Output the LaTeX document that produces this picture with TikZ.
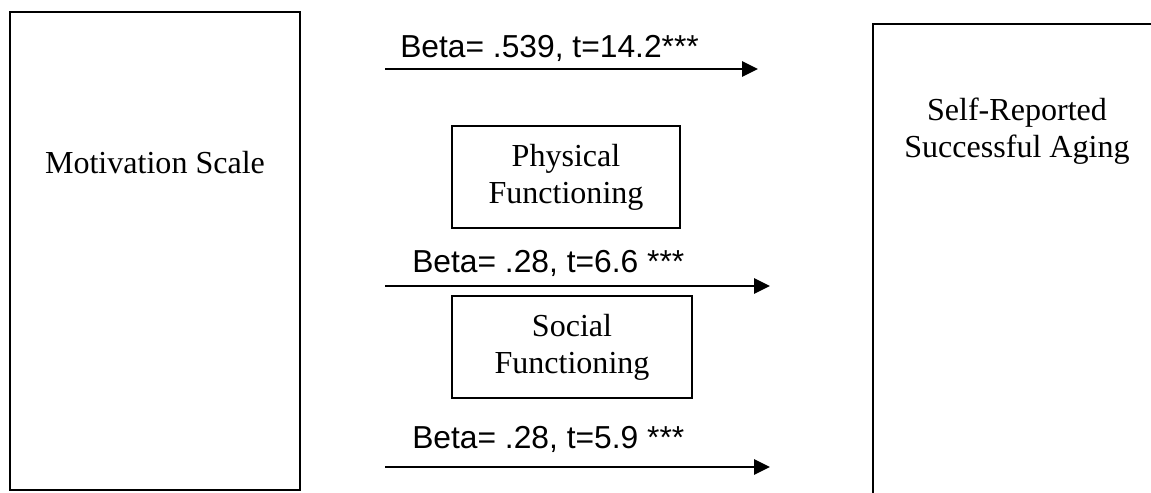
\documentclass[tikz,border=0pt]{standalone}
\usepackage{fontspec}
\setmainfont{Liberation Serif}
\setsansfont{Liberation Sans}
\usetikzlibrary{arrows.meta}
\usetikzlibrary{positioning}

\tikzset{
  varbox/.style={draw, rectangle, line width=1.3pt, align=center,
    font=\fontsize{22.8}{26.3}\selectfont},
  boxtext/.style={align=center, font=\fontsize{22.8}{26.3}\selectfont},
  betatext/.style={anchor=base west, inner sep=0pt,
    font=\sffamily\fontsize{22.6}{26}\selectfont},
  effect/.style={line width=1.5pt, -{Triangle[length=0.4cm, width=0.38cm]}}
}

\begin{document}
\begin{tikzpicture}
    \useasboundingbox (0, 0) rectangle (28.775, 12.325);
    \clip (0, 0) rectangle (28.775, 12.325);

    \node [varbox, minimum width=7.25cm, minimum height=11.95cm] (motiv) at (3.875, 6.05) {};
    \node [boxtext] (motivtext) at (3.875, 8.25) {Motivation Scale};

    % outcome box runs off the page on the right and at the bottom
    \node [varbox, minimum width=8cm, minimum height=13cm, anchor=north west] (aging) at (21.8, 11.75) {};
    \node [boxtext] (agingtext) at (25.425, 9.04) {Self-Reported\\Successful Aging};

    \node [varbox, minimum width=5.7cm, minimum height=2.55cm] (phys) at (14.15, 7.9) {Physical\\Functioning};
    \node [varbox, minimum width=6cm, minimum height=2.55cm] (soc) at (14.3, 3.65) {Social\\Functioning};

    % paths
    \coordinate (top from) at (9.625, 10.6);
    \coordinate (top to) at (18.95, 10.6);
    \coordinate (mid from) at (9.625, 5.175);
    \coordinate (mid to) at (19.25, 5.175);
    \coordinate (low from) at (9.625, 0.65);
    \coordinate (low to) at (19.25, 0.65);

    \draw [effect] (top from) -- (top to);
    \draw [effect] (mid from) -- (mid to);
    \draw [effect] (low from) -- (low to);

    \node [betatext] (beta top) at (10.0, 10.875) {Beta= .539, t=14.2***};
    \node [betatext] (beta mid) at (10.3, 5.5) {Beta= .28, t=6.6 ***};
    \node [betatext] (beta low) at (10.3, 1.1) {Beta= .28, t=5.9 ***};
\end{tikzpicture}
\end{document}
